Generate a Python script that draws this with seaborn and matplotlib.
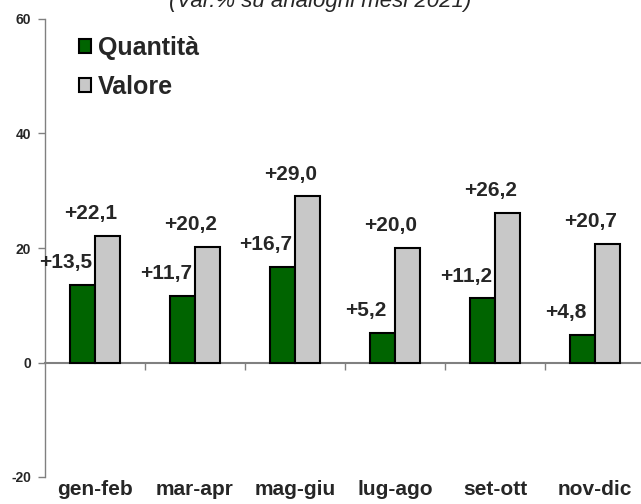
import pandas as pd
import numpy as np
import matplotlib
matplotlib.use("Agg")
import matplotlib.pyplot as plt
import seaborn as sns

# %% Dati
periodi = ["gen-feb", "mar-apr", "mag-giu", "lug-ago", "set-ott", "nov-dic"]
quantita = [13.5, 11.7, 16.7, 5.2, 11.2, 4.8]
valore = [22.1, 20.2, 29.0, 20.0, 26.2, 20.7]
serie = ["Quantità", "Valore"]
colori = ["#006400", "#C8C8C8"]
y_ticks = [-20, 0, 20, 40, 60]
titolo = "(Var.% su analoghi mesi 2021)"

df = pd.DataFrame({
    "periodo": periodi * 2,
    "serie": [serie[0]] * len(periodi) + [serie[1]] * len(periodi),
    "var": quantita + valore,
})

# %% Stile
sns.set_theme(style="white")
plt.rcParams["font.family"] = ["Liberation Sans", "DejaVu Sans"]
plt.rcParams["font.weight"] = "bold"

fig = plt.figure(figsize=(6.41, 5.04), dpi=100)
ax = fig.add_axes([45 / 641, 27 / 504, 1 - 45 / 641, 458 / 504])

sns.barplot(data=df, x="periodo", y="var", hue="serie", palette=colori,
            width=0.5, edgecolor="black", linewidth=1.5, saturation=1, ax=ax)

ax.set_xlim(-0.5, 5.46)
ax.set_ylim(-20, 60)
ax.set_yticks(y_ticks)
ax.set_yticklabels([str(v) for v in y_ticks], fontsize=10, fontweight="bold")
ax.tick_params(axis="y", left=True, length=5, width=1, color="#808080", pad=5)
ax.tick_params(axis="x", bottom=False, length=0, pad=2)
for lab in ax.get_xticklabels():
    lab.set_fontsize(15)
    lab.set_fontweight("bold")
ax.set_xlabel("")
ax.set_ylabel("")

for s in ["top", "right", "bottom"]:
    ax.spines[s].set_visible(False)
ax.spines["left"].set_color("#808080")
ax.spines["left"].set_linewidth(1)

# asse delle categorie a quota 0
secax = ax.secondary_xaxis(0.25)
secax.set_xticks(np.arange(len(periodi) - 1) + 0.5)
secax.set_xticklabels([])
secax.tick_params(axis="x", direction="out", length=5, width=1, color="#808080")
secax.spines["bottom"].set_color("#808080")
secax.spines["bottom"].set_linewidth(1.5)

# etichette dei valori
for cont in ax.containers:
    for bar in cont:
        h = bar.get_height()
        ax.annotate(f"+{h:.1f}".replace(".", ","),
                    (bar.get_x() + bar.get_width() / 2, h),
                    xytext=(-12, 16), textcoords="offset points",
                    ha="center", va="center", fontsize=15, fontweight="bold")

# legenda
ax.legend(loc="upper left", bbox_to_anchor=(0.04, 0.985), frameon=False,
          fontsize=18, handlelength=0.5, handleheight=0.5,
          handletextpad=0.25, labelspacing=0.6, borderaxespad=0)
for t in ax.get_legend().get_texts():
    t.set_fontweight("bold")

fig.text(0.5, 1 - 7 / 504, titolo, ha="center", va="baseline",
         fontsize=16, fontstyle="italic", fontweight="normal")

fig.savefig("out.png", dpi=100)
